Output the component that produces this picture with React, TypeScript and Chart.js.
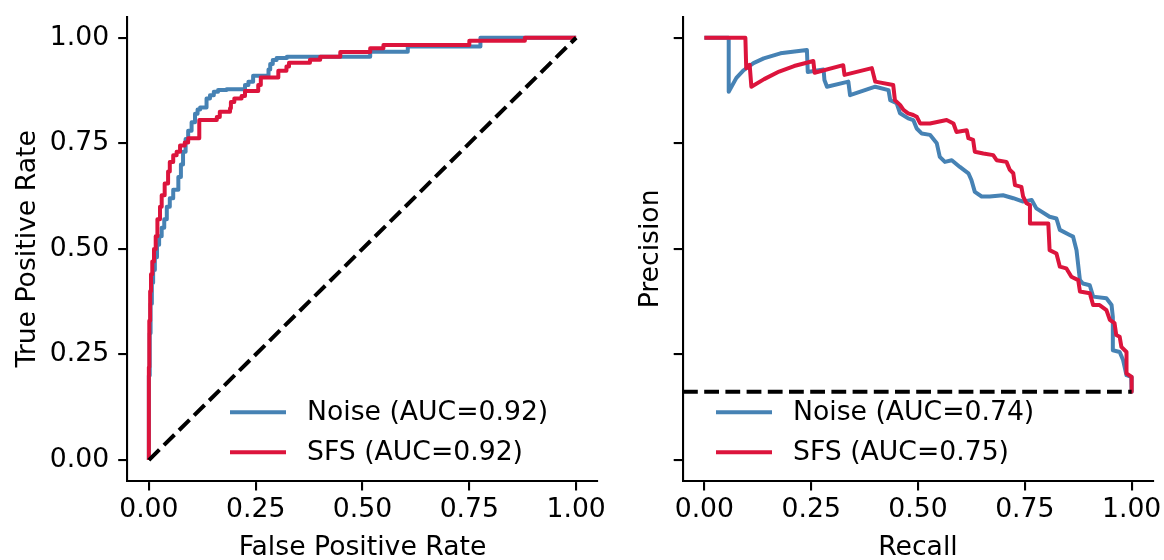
import React, { useEffect, useRef } from 'react';
import { Chart, registerables } from 'chart.js';

Chart.register(...registerables);

const FONT = "'DejaVu Sans', sans-serif";
const FS = 26.67;
const BLUE = '#4682B4';
const RED = '#DC143C';

const AXIS_TICKS = [0, 0.25, 0.5, 0.75, 1];

// ROC curves (step points: plateau level and the FPR where it ends)
const ROC_NOISE_FPR = [0, 0.002, 0.004, 0.007, 0.010, 0.014, 0.019, 0.024, 0.030, 0.036, 0.042, 0.049, 0.057, 0.069, 0.075, 0.080, 0.086, 0.092, 0.100, 0.108, 0.114, 0.120, 0.135, 0.143, 0.152, 0.162, 0.182, 0.225, 0.233, 0.244, 0.280, 0.284, 0.290, 0.299, 0.323, 0.518, 0.606, 0.776, 1.0];
const ROC_NOISE_TPR = [0, 0.20, 0.30, 0.37, 0.42, 0.45, 0.48, 0.51, 0.53, 0.55, 0.57, 0.60, 0.62, 0.64, 0.67, 0.70, 0.73, 0.76, 0.78, 0.80, 0.82, 0.83, 0.835, 0.856, 0.864, 0.872, 0.876, 0.878, 0.888, 0.896, 0.910, 0.925, 0.938, 0.947, 0.952, 0.955, 0.967, 0.979, 1.0];
const ROC_SFS_FPR = [0, 0.001, 0.003, 0.005, 0.008, 0.012, 0.016, 0.020, 0.026, 0.030, 0.037, 0.045, 0.049, 0.057, 0.065, 0.073, 0.084, 0.092, 0.118, 0.159, 0.166, 0.190, 0.192, 0.200, 0.217, 0.225, 0.256, 0.262, 0.303, 0.322, 0.328, 0.377, 0.401, 0.448, 0.518, 0.549, 0.750, 0.880, 1.0];
const ROC_SFS_TPR = [0, 0.22, 0.33, 0.40, 0.44, 0.47, 0.50, 0.53, 0.57, 0.60, 0.627, 0.655, 0.683, 0.706, 0.722, 0.730, 0.745, 0.752, 0.762, 0.805, 0.812, 0.825, 0.833, 0.848, 0.856, 0.862, 0.874, 0.888, 0.906, 0.922, 0.932, 0.941, 0.948, 0.955, 0.966, 0.975, 0.983, 0.993, 1.0];
const ROC_CHANCE_X = [0, 1];
const ROC_CHANCE_Y = [0, 1];

// Precision-recall curves
const PR_NOISE_REC = [0, 0.057, 0.057, 0.075, 0.092, 0.115, 0.139, 0.178, 0.240, 0.242, 0.279, 0.281, 0.287, 0.337, 0.341, 0.400, 0.431, 0.435, 0.450, 0.458, 0.477, 0.489, 0.497, 0.509, 0.528, 0.544, 0.551, 0.563, 0.579, 0.598, 0.618, 0.625, 0.633, 0.649, 0.668, 0.699, 0.723, 0.746, 0.766, 0.777, 0.808, 0.824, 0.832, 0.855, 0.863, 0.871, 0.879, 0.886, 0.902, 0.910, 0.941, 0.953, 0.956, 0.956, 0.972, 0.980, 0.988, 0.999, 1.0];
const PR_NOISE_PREC = [1, 1, 0.872, 0.905, 0.923, 0.940, 0.951, 0.963, 0.971, 0.919, 0.925, 0.900, 0.884, 0.896, 0.864, 0.884, 0.876, 0.852, 0.845, 0.821, 0.809, 0.805, 0.785, 0.773, 0.770, 0.750, 0.718, 0.706, 0.710, 0.694, 0.679, 0.663, 0.635, 0.624, 0.624, 0.627, 0.620, 0.612, 0.616, 0.596, 0.576, 0.572, 0.545, 0.533, 0.529, 0.497, 0.426, 0.418, 0.414, 0.387, 0.383, 0.367, 0.339, 0.260, 0.256, 0.237, 0.201, 0.197, 0.162];
const PR_SFS_REC = [0, 0.096, 0.098, 0.106, 0.110, 0.140, 0.175, 0.210, 0.255, 0.258, 0.325, 0.328, 0.392, 0.400, 0.442, 0.446, 0.458, 0.466, 0.477, 0.489, 0.497, 0.505, 0.528, 0.567, 0.583, 0.590, 0.614, 0.618, 0.629, 0.633, 0.653, 0.676, 0.684, 0.707, 0.715, 0.723, 0.727, 0.742, 0.746, 0.754, 0.762, 0.762, 0.805, 0.808, 0.824, 0.832, 0.847, 0.859, 0.875, 0.879, 0.902, 0.910, 0.925, 0.941, 0.949, 0.960, 0.964, 0.972, 0.976, 0.988, 0.988, 1.0, 1.0];
const PR_SFS_PREC = [1, 1, 0.928, 0.936, 0.884, 0.902, 0.920, 0.933, 0.945, 0.917, 0.935, 0.912, 0.928, 0.896, 0.888, 0.852, 0.841, 0.829, 0.821, 0.817, 0.813, 0.797, 0.797, 0.805, 0.797, 0.777, 0.781, 0.762, 0.758, 0.730, 0.726, 0.722, 0.710, 0.706, 0.687, 0.679, 0.651, 0.647, 0.624, 0.608, 0.604, 0.560, 0.560, 0.497, 0.489, 0.458, 0.454, 0.434, 0.426, 0.399, 0.395, 0.367, 0.367, 0.355, 0.332, 0.324, 0.296, 0.292, 0.268, 0.256, 0.205, 0.197, 0.162];
const PR_CHANCE_X = [-0.05, 1.0];
const PR_CHANCE_Y = [0.162, 0.162];

const LABELS_ROC = ['Noise (AUC=0.92)', 'SFS (AUC=0.92)'];
const LABELS_PR = ['Noise (AUC=0.74)', 'SFS (AUC=0.75)'];

const pts = (xs: number[], ys: number[]) => xs.map((x, i) => ({ x, y: ys[i] }));

const inlineLegend = {
  id: 'inlineLegend',
  afterDraw(chart: any, _args: any, opts: any) {
    if (!opts || opts.dx === undefined) return;
    const { ctx, chartArea } = chart;
    const items = chart.data.datasets.filter((d: any) => d.label);
    ctx.save();
    ctx.font = `${FS}px ${FONT}`;
    ctx.textBaseline = 'middle';
    ctx.textAlign = 'left';
    items.forEach((d: any, i: number) => {
      const y = chartArea.bottom + opts.dy + i * opts.gap;
      const x = chartArea.left + opts.dx;
      ctx.strokeStyle = d.borderColor;
      ctx.lineWidth = 4;
      ctx.lineCap = 'butt';
      ctx.beginPath();
      ctx.moveTo(x, y);
      ctx.lineTo(x + 56, y);
      ctx.stroke();
      ctx.fillStyle = '#000';
      ctx.fillText(d.label, x + 77, y + 1);
    });
    ctx.restore();
  },
};

function curve(label: string, color: string, xs: number[], ys: number[], order: number, stepped: any) {
  return {
    label,
    data: pts(xs, ys),
    borderColor: color,
    backgroundColor: color,
    borderWidth: 4,
    pointRadius: 0,
    fill: false,
    tension: 0,
    stepped,
    borderJoinStyle: 'round',
    order,
  };
}

function chance(xs: number[], ys: number[]) {
  return {
    label: '',
    data: pts(xs, ys),
    borderColor: '#000',
    borderWidth: 4,
    borderDash: [14.8, 6.4],
    pointRadius: 0,
    fill: false,
    tension: 0,
    order: 1,
  };
}

function axisCommon() {
  return {
    type: 'linear',
    min: -0.05,
    max: 1.05,
    afterBuildTicks: (s: any) => {
      s.ticks = AXIS_TICKS.map((v) => ({ value: v }));
    },
    grid: {
      display: true,
      drawOnChartArea: false,
      drawTicks: true,
      tickLength: 9.3,
      tickWidth: 2.1,
      tickColor: '#000',
      color: '#000',
      lineWidth: 2.1,
    },
    border: { display: true, color: '#000', width: 2.1 },
  };
}

function buildConfig(p: any) {
  return {
    type: 'line',
    data: { datasets: p.datasets },
    options: {
      animation: false,
      responsive: false,
      events: [],
      layout: { padding: { top: 16.6, right: p.padRight, bottom: 0, left: 0 } },
      plugins: {
        legend: { display: false },
        tooltip: { enabled: false },
        inlineLegend: { dx: p.legendDx, dy: -69, gap: 40 },
      },
      scales: {
        x: {
          ...axisCommon(),
          position: 'bottom',
          afterFit: (s: any) => {
            s.height = 78.8;
            s.paddingLeft = 0;
            s.paddingRight = 0;
          },
          ticks: {
            autoSkip: false,
            maxRotation: 0,
            padding: 4,
            color: '#000',
            font: { family: FONT, size: FS },
            callback: (v: any) => Number(v).toFixed(2),
          },
          title: {
            display: true,
            text: p.xTitle,
            color: '#000',
            font: { family: FONT, size: FS, lineHeight: 0.86 },
            padding: { top: 0, bottom: 0 },
          },
        },
        y: {
          ...axisCommon(),
          position: 'left',
          afterFit: (s: any) => {
            s.width = p.yWidth;
            s.paddingTop = 0;
            s.paddingBottom = 0;
          },
          ticks: {
            autoSkip: false,
            padding: 9,
            color: '#000',
            font: { family: FONT, size: FS },
            callback: (v: any) => (p.showYLabels ? Number(v).toFixed(2) : ''),
          },
          title: {
            display: true,
            text: p.yTitle,
            color: '#000',
            font: { family: FONT, size: FS, lineHeight: 1.2 },
            padding: { top: p.yTitlePad, bottom: 0 },
          },
        },
      },
    },
    plugins: [inlineLegend],
  };
}

export default function App() {
  const leftRef = useRef<HTMLCanvasElement | null>(null);
  const rightRef = useRef<HTMLCanvasElement | null>(null);

  useEffect(() => {
    const left = new Chart(
      leftRef.current as HTMLCanvasElement,
      buildConfig({
        datasets: [
          curve(LABELS_ROC[0], BLUE, ROC_NOISE_FPR, ROC_NOISE_TPR, 3, 'after'),
          curve(LABELS_ROC[1], RED, ROC_SFS_FPR, ROC_SFS_TPR, 2, 'after'),
          chance(ROC_CHANCE_X, ROC_CHANCE_Y),
        ],
        xTitle: 'False Positive Rate',
        yTitle: 'True Positive Rate',
        showYLabels: true,
        yWidth: 127.5,
        padRight: 22.5,
        legendDx: 102.5,
        yTitlePad: 12,
      }) as any
    );
    const right = new Chart(
      rightRef.current as HTMLCanvasElement,
      buildConfig({
        datasets: [
          curve(LABELS_PR[0], BLUE, PR_NOISE_REC, PR_NOISE_PREC, 3, false),
          curve(LABELS_PR[1], RED, PR_SFS_REC, PR_SFS_PREC, 2, false),
          chance(PR_CHANCE_X, PR_CHANCE_Y),
        ],
        xTitle: 'Recall',
        yTitle: 'Precision',
        showYLabels: false,
        yWidth: 63,
        padRight: 11,
        legendDx: 33,
        yTitlePad: 15,
      }) as any
    );
    return () => {
      left.destroy();
      right.destroy();
    };
  }, []);

  return (
    <div style={{ position: 'absolute', left: 0, top: 0, width: 1164, height: 560, background: '#fff', overflow: 'hidden' }}>
      <canvas ref={leftRef} width={620} height={560} style={{ position: 'absolute', left: 0, top: 0, width: 620, height: 560 }} />
      <canvas ref={rightRef} width={544} height={560} style={{ position: 'absolute', left: 620, top: 0, width: 544, height: 560 }} />
    </div>
  );
}
